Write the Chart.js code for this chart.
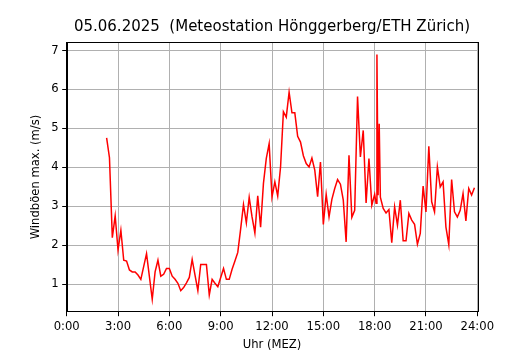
<!DOCTYPE html>
<html>
<head>
<meta charset="utf-8">
<script src="https://cdn.jsdelivr.net/npm/chart.js@4/dist/chart.umd.min.js"></script>
<style>
  html,body{margin:0;padding:0;background:#fff}
  #wrap{width:530px;height:350px}
</style>
</head>
<body>
<div id="wrap"><canvas id="ch-gust" width="530" height="350"></canvas></div>
<script>
const times=['02:20','02:30','02:40','02:50','03:00','03:10','03:20','03:30','03:40','03:50','04:00','04:10','04:20','04:40','05:00','05:10','05:20','05:30','05:40','05:50',
  '06:00','06:10','06:20','06:30','06:40','06:50','07:00','07:10','07:20','07:30','07:40','07:50','08:00','08:10','08:20','08:30','08:40','08:50','09:10','09:20',
  '09:30','09:40','09:50','10:00','10:10','10:20','10:30','10:40','10:50','11:00','11:10','11:20','11:30','11:40','11:50','12:00','12:10','12:20','12:30','12:40',
  '12:50','13:00','13:10','13:20','13:30','13:40','13:50','14:00','14:10','14:20','14:30','14:40','14:50','15:00','15:10','15:20','15:30','15:40','15:50','16:00',
  '16:10','16:20','16:30','16:40','16:50','17:00','17:10','17:20','17:30','17:40','17:50','18:00','18:05','18:08','18:12','18:16','18:20','18:30','18:40','18:50',
  '19:00','19:10','19:20','19:30','19:40','19:50','20:00','20:10','20:20','20:30','20:40','20:50','21:00','21:10','21:20','21:30','21:40','21:50','22:00','22:10',
  '22:20','22:30','22:40','22:50','23:00','23:10','23:20','23:30','23:40','23:50'];
const gusts=[4.76,4.25,2.20,2.76,1.88,2.39,1.62,1.60,1.37,1.32,1.32,1.24,1.13,1.79,0.62,1.32,1.62,1.21,1.26,1.41,
  1.41,1.21,1.13,1.03,0.84,0.92,1.04,1.18,1.64,1.24,0.84,1.51,1.51,1.51,0.73,1.13,1.03,0.94,1.41,1.13,
  1.13,1.39,1.60,1.82,2.42,3.05,2.58,3.23,2.73,2.32,3.27,2.47,3.59,4.23,4.61,3.24,3.63,3.27,4.01,5.43,
  5.29,5.93,5.40,5.40,4.80,4.65,4.30,4.10,4.01,4.24,3.93,3.25,4.14,2.54,3.31,2.73,3.18,3.46,3.69,3.57,
  3.16,2.09,4.31,2.72,2.90,5.82,4.27,4.95,3.09,4.23,3.03,3.31,3.08,6.90,3.29,5.12,3.24,2.95,2.83,2.92,
  2.07,2.99,2.52,3.16,2.12,2.12,2.82,2.65,2.54,2.03,2.31,3.52,2.86,4.54,3.12,2.86,4.01,3.50,3.63,2.47,
  2.02,3.69,2.86,2.73,2.90,3.33,2.63,3.46,3.29,3.48];
const xTicks=[0,3,6,9,12,15,18,21,24];
const yTicks=[1,2,3,4,5,6,7];
const TITLE='05.06.2025  (Meteostation Hönggerberg/ETH Zürich)';
const X_LABEL='Uhr (MEZ)';
const Y_LABEL='Windböen max. (m/s)';

const toHours=t=>{const [h,m]=t.split(':').map(Number);return h+m/60;};
const points=times.map((t,i)=>({x:toHours(t),y:gusts[i]}));

const FONT='"DejaVu Sans", sans-serif';

// Rahmen wie bei matplotlib (oben/rechts auch)
const frame={id:'frame',afterDatasetsDraw(c){
  const a=c.chartArea,ctx=c.ctx;
  ctx.save();ctx.strokeStyle='#000';ctx.lineWidth=1;
  ctx.strokeRect(Math.round(a.left)+0.5,Math.round(a.top)+0.5,Math.round(a.right-a.left),Math.round(a.bottom-a.top));
  ctx.restore();
}};

new Chart(document.getElementById('ch-gust'),{
  type:'line',
  data:{datasets:[{data:points,borderColor:'#ff0000',borderWidth:1.5,pointRadius:0,tension:0,fill:false}]},
  options:{
    responsive:false,animation:false,
    layout:{padding:{left:0,right:52.7,top:0,bottom:0}},
    plugins:{
      legend:{display:false},tooltip:{enabled:false},
      title:{display:true,text:TITLE,fullSize:false,color:'#000',font:{family:FONT,size:15,weight:'normal',lineHeight:1.2},padding:{top:18.5,bottom:5.8}}
    },
    scales:{
      x:{type:'linear',min:0,max:24,
        afterBuildTicks:s=>{s.ticks=xTicks.map(v=>({value:v}));},
        afterFit:s=>{s.height=38.3;},
        ticks:{color:'#000',font:{family:FONT,size:11.6},padding:4,maxRotation:0,autoSkip:false,callback:v=>v+':00'},
        grid:{color:'#b0b0b0',lineWidth:1,tickColor:'#000',tickLength:4.5},
        border:{color:'#000',width:1},
        title:{display:true,text:X_LABEL,color:'#000',font:{family:FONT,size:11.6,lineHeight:1.2},padding:{top:0,bottom:-2}}
      },
      y:{min:0.3,max:7.21,
        afterBuildTicks:s=>{s.ticks=yTicks.map(v=>({value:v}));},
        afterFit:s=>{s.width=66.7;},
        ticks:{color:'#000',font:{family:FONT,size:11.6},padding:3.5},
        grid:{color:'#b0b0b0',lineWidth:1,tickColor:'#000',tickLength:4.5},
        border:{color:'#000',width:1},
        title:{display:true,text:Y_LABEL,color:'#000',font:{family:FONT,size:11.6,lineHeight:1.2},padding:{top:29,bottom:0}}
      }
    }
  },
  plugins:[frame]
});
</script>
</body>
</html>
